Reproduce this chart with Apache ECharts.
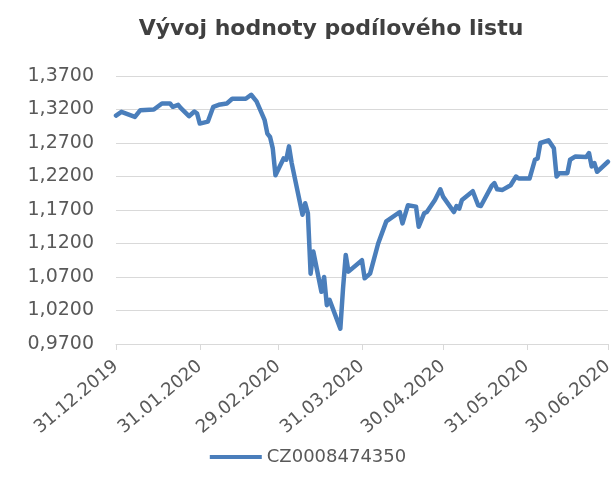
<!DOCTYPE html>
<html>
<head>
<meta charset="utf-8">
<script src="https://cdn.jsdelivr.net/npm/echarts@6/dist/echarts.min.js"></script>
<style>html,body{margin:0;padding:0;background:#fff;}#c{width:616px;height:491px;}</style>
</head>
<body>
<div id="c"></div>
<script>
const seriesName = 'CZ0008474350';
const dates = [
 '31.12.2019','02.01.2020','07.01.2020','09.01.2020','14.01.2020','17.01.2020','20.01.2020','21.01.2020','23.01.2020','24.01.2020',
 '27.01.2020','29.01.2020','30.01.2020','31.01.2020','03.02.2020','05.02.2020','07.02.2020','10.02.2020','12.02.2020','17.02.2020',
 '19.02.2020','21.02.2020','24.02.2020','25.02.2020','26.02.2020','27.02.2020','28.02.2020','02.03.2020','03.03.2020','04.03.2020',
 '05.03.2020','09.03.2020','10.03.2020','11.03.2020','12.03.2020','13.03.2020','16.03.2020','17.03.2020','18.03.2020','19.03.2020',
 '23.03.2020','24.03.2020','25.03.2020','26.03.2020','31.03.2020','01.04.2020','03.04.2020','06.04.2020','09.04.2020','14.04.2020',
 '15.04.2020','17.04.2020','20.04.2020','21.04.2020','23.04.2020','24.04.2020','27.04.2020','29.04.2020','30.04.2020','04.05.2020',
 '05.05.2020','06.05.2020','07.05.2020','11.05.2020','13.05.2020','14.05.2020','18.05.2020','19.05.2020','20.05.2020','22.05.2020',
 '25.05.2020','27.05.2020','28.05.2020','01.06.2020','03.06.2020','04.06.2020','05.06.2020','08.06.2020','10.06.2020','11.06.2020',
 '12.06.2020','15.06.2020','16.06.2020','18.06.2020','22.06.2020','23.06.2020','24.06.2020','25.06.2020','26.06.2020','30.06.2020'
];
const values = [
 1.311,1.3165,1.309,1.319,1.320,1.329,1.329,1.324,1.327,1.322,
 1.310,1.317,1.314,1.299,1.302,1.324,1.327,1.329,1.336,1.336,
 1.342,1.332,1.304,1.284,1.279,1.262,1.222,1.247,1.245,1.265,
 1.240,1.163,1.180,1.165,1.075,1.108,1.048,1.070,1.028,1.036,
 0.993,1.053,1.103,1.078,1.095,1.068,1.075,1.120,1.153,1.167,
 1.150,1.177,1.175,1.145,1.165,1.167,1.185,1.201,1.190,1.167,
 1.176,1.172,1.185,1.198,1.177,1.176,1.206,1.210,1.201,1.200,
 1.207,1.220,1.217,1.217,1.245,1.247,1.270,1.274,1.262,1.220,
 1.225,1.225,1.245,1.250,1.249,1.255,1.235,1.240,1.227,1.242
];
const xTickLabels = ['31.12.2019','31.01.2020','29.02.2020','31.03.2020','30.04.2020','31.05.2020','30.06.2020'];
const yMin = 0.97, yMax = 1.37, yStep = 0.05;

function toDay(s){
  const p = s.split('.');
  const t = Date.UTC(+p[2], +p[1]-1, +p[0]);
  return Math.round((t - Date.UTC(2019,11,31)) / 86400000);
}
const tickDays = xTickLabels.map(toDay);
const labelByDay = {};
xTickLabels.forEach((l,i)=>{ labelByDay[tickDays[i]] = l; });
const data = dates.map((d,i)=>[toDay(d), values[i]]);

const chart = echarts.init(document.getElementById('c'), null, {renderer:'canvas'});
const font = 'DejaVu Sans';
chart.setOption({
  animation:false,
  backgroundColor:'#ffffff',
  title:{
    text:'Vývoj hodnoty podílového listu',
    left:326, top:13, textAlign:'center',
    textStyle:{fontFamily:font, fontWeight:'bold', fontSize:22, color:'#404040'}
  },
  legend:{
    data:[seriesName],
    left:'center', top:443,
    icon:'rect', itemWidth:52, itemHeight:4, itemGap:8,
    textStyle:{fontFamily:font, fontSize:18, color:'#595959'}
  },
  grid:{left:116, right:4, top:76, bottom:147, containLabel:false},
  xAxis:{
    type:'value', min:0, max:tickDays[tickDays.length-1],
    axisLine:{show:true, lineStyle:{color:'#d9d9d9', width:1}},
    axisTick:{show:true, customValues:tickDays, length:6, lineStyle:{color:'#d9d9d9'}},
    splitLine:{show:false},
    axisLabel:{
      customValues:tickDays, rotate:40, margin:20,
      fontFamily:font, fontSize:18, color:'#595959',
      formatter:(v)=>labelByDay[Math.round(v)] || ''
    }
  },
  yAxis:{
    type:'value', min:yMin, max:yMax, interval:yStep,
    axisLine:{show:false}, axisTick:{show:false},
    splitLine:{lineStyle:{color:'#d9d9d9', width:1}},
    axisLabel:{
      fontFamily:font, fontSize:19, color:'#595959', margin:22,
      formatter:(v)=>v.toFixed(4).replace('.', ',')
    }
  },
  series:[{
    name:seriesName, type:'line', data:data,
    showSymbol:false, symbol:'none',
    lineStyle:{color:'#4a7ebb', width:4.5, join:'round', cap:'round'},
    itemStyle:{color:'#4a7ebb'}
  }]
});
</script>
</body>
</html>
